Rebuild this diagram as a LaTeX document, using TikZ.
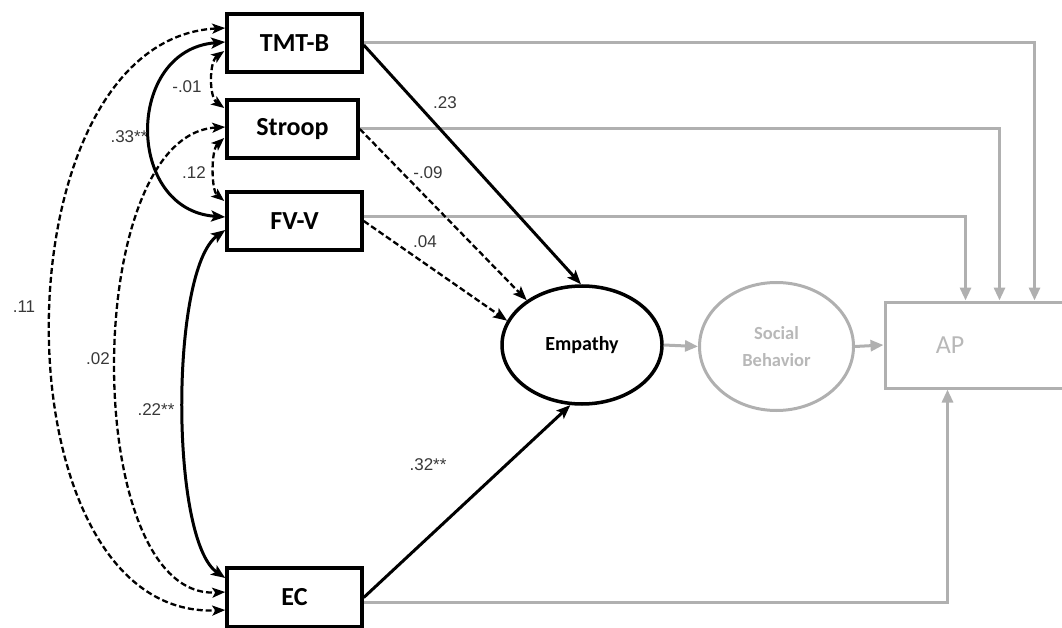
\documentclass[tikz,border=0pt]{standalone}
\usepackage{fontspec}
\setmainfont{Liberation Sans}
\newfontfamily\carl{Carlito}
\usetikzlibrary{arrows.meta,shapes.geometric,calc}
\definecolor{lg}{HTML}{B0B0B0}
\definecolor{lgt}{HTML}{B8B8B8}
\definecolor{numc}{HTML}{383838}
\begin{document}
\begin{tikzpicture}[x=1pt,y=-1pt,
  var/.style={draw=black,line width=3.5pt,minimum width=135pt,minimum height=58pt,inner sep=0pt,
    font=\carl\bfseries\fontsize{26}{30}\selectfont},
  ell/.style={ellipse,draw=black,line width=3.5pt,minimum width=160pt,minimum height=118pt,inner sep=0pt,
    font=\carl\bfseries\fontsize{20}{23}\selectfont},
  gell/.style={ellipse,draw=lg,line width=3pt,minimum width=154pt,minimum height=128pt,inner sep=0pt,
    text=lgt,align=center,font=\carl\bfseries\fontsize{18.5}{27}\selectfont},
  gbox/.style={draw=lg,line width=3pt,minimum width=190pt,minimum height=86pt,inner sep=0pt},
  num/.style={text=numc,inner sep=1pt,font=\fontsize{17}{20}\selectfont},
  sarr/.style={draw=black,line width=3pt,-{Stealth[length=14pt,width=11pt,inset=3pt]}},
  darr/.style={draw=black,line width=2.3pt,dash pattern=on 6pt off 3pt,-{Stealth[length=14pt,width=11pt,inset=3pt]}},
  scov/.style={draw=black,line width=3pt,{Stealth[length=14pt,width=11pt,inset=3pt]}-{Stealth[length=14pt,width=11pt,inset=3pt]}},
  dcov/.style={draw=black,line width=2.3pt,dash pattern=on 6pt off 3pt,{Stealth[length=13pt,width=10pt,inset=3pt]}-{Stealth[length=13pt,width=10pt,inset=3pt]}},
  garr/.style={draw=lg,line width=3pt,-{Triangle[length=13pt,width=11pt]}}
]
\useasboundingbox (0,0) rectangle (1062,628);
\clip (0,0) rectangle (1062,628);

% nodes
\node[var] (tmt) at (294.5,43) {TMT-B};
\node[var,minimum width=131pt] (stroop) at (292.5,129) {Stroop};
\node[var] (fvv) at (294.5,221) {FV-V};
\node[var,minimum height=59pt] (ec) at (294.5,597.5) {EC};
\node[ell] (emp) at (582,345) {Empathy};
\node[gell] (soc) at (776.5,346.5) {Social\\Behavior};
\node[gbox,label={[text=lgt,font=\carl\fontsize{26}{30}\selectfont,xshift=-30pt]center:AP}] (ap) at (980,345) {};

% grey paths
\draw[garr] (tmt.east) -| ($(ap.north west)+(151,0)$);
\draw[garr] (stroop.east) -| ($(ap.north west)+(116,0)$);
\draw[garr] ($(fvv.east)+(0,-4)$) -| ($(ap.north west)+(82,0)$);
\draw[garr] ($(ec.east)+(0,5)$) -| ($(ap.south west)+(64,0)$);
\draw[garr] (emp.east) -- (soc.west);
\draw[garr] (soc.east) -- (ap.west);

% paths to empathy
\draw[sarr] ($(tmt.east)+(0,2)$) -- (emp.91);
\draw[darr] (stroop.east) -- (emp.141);
\draw[darr] (fvv.east) -- (emp.162);
\draw[sarr] (ec.east) -- (emp.259);

% covariances
\draw[scov] ($(tmt.west)+(0,-1)$) .. controls (125,50) and (125,210) .. ($(fvv.west)+(0,-4)$);
\draw[dcov] ($(tmt.west)+(-1,8)$) .. controls (209,62) and (209,97) .. ($(stroop.west)+(-1,-21)$);
\draw[dcov] ($(stroop.west)+(-1,9)$) .. controls (211,150) and (211,190) .. ($(fvv.west)+(-1,-20)$);
\draw[dcov] ($(tmt.west)+(0,-15)$) .. controls (-7,40) and (-7,620) .. ($(ec.west)+(0,12.5)$);
\draw[dcov] ($(stroop.west)+(0,-2)$) .. controls (80,135) and (80,600) .. ($(ec.west)+(0,-5.5)$);
\draw[scov] ($(fvv.west)+(0,9)$) .. controls (170,270) and (170,540) .. ($(ec.west)+(0,-19.5)$);

% labels
\node[num] (l23) at (445,103) {.23};
\node[num] (l09) at (428,173) {-.09};
\node[num] (l04) at (425,242) {.04};
\node[num] (l32) at (428,465) {.32**};
\node[num] (l33) at (129,137) {.33**};
\node[num] (l01) at (187,87) {-.01};
\node[num] (l12) at (194,173) {.12};
\node[num] (l11) at (24,307) {.11};
\node[num] (l02) at (98,359) {.02};
\node[num] (l22) at (156,410) {.22**};
\end{tikzpicture}
\end{document}
